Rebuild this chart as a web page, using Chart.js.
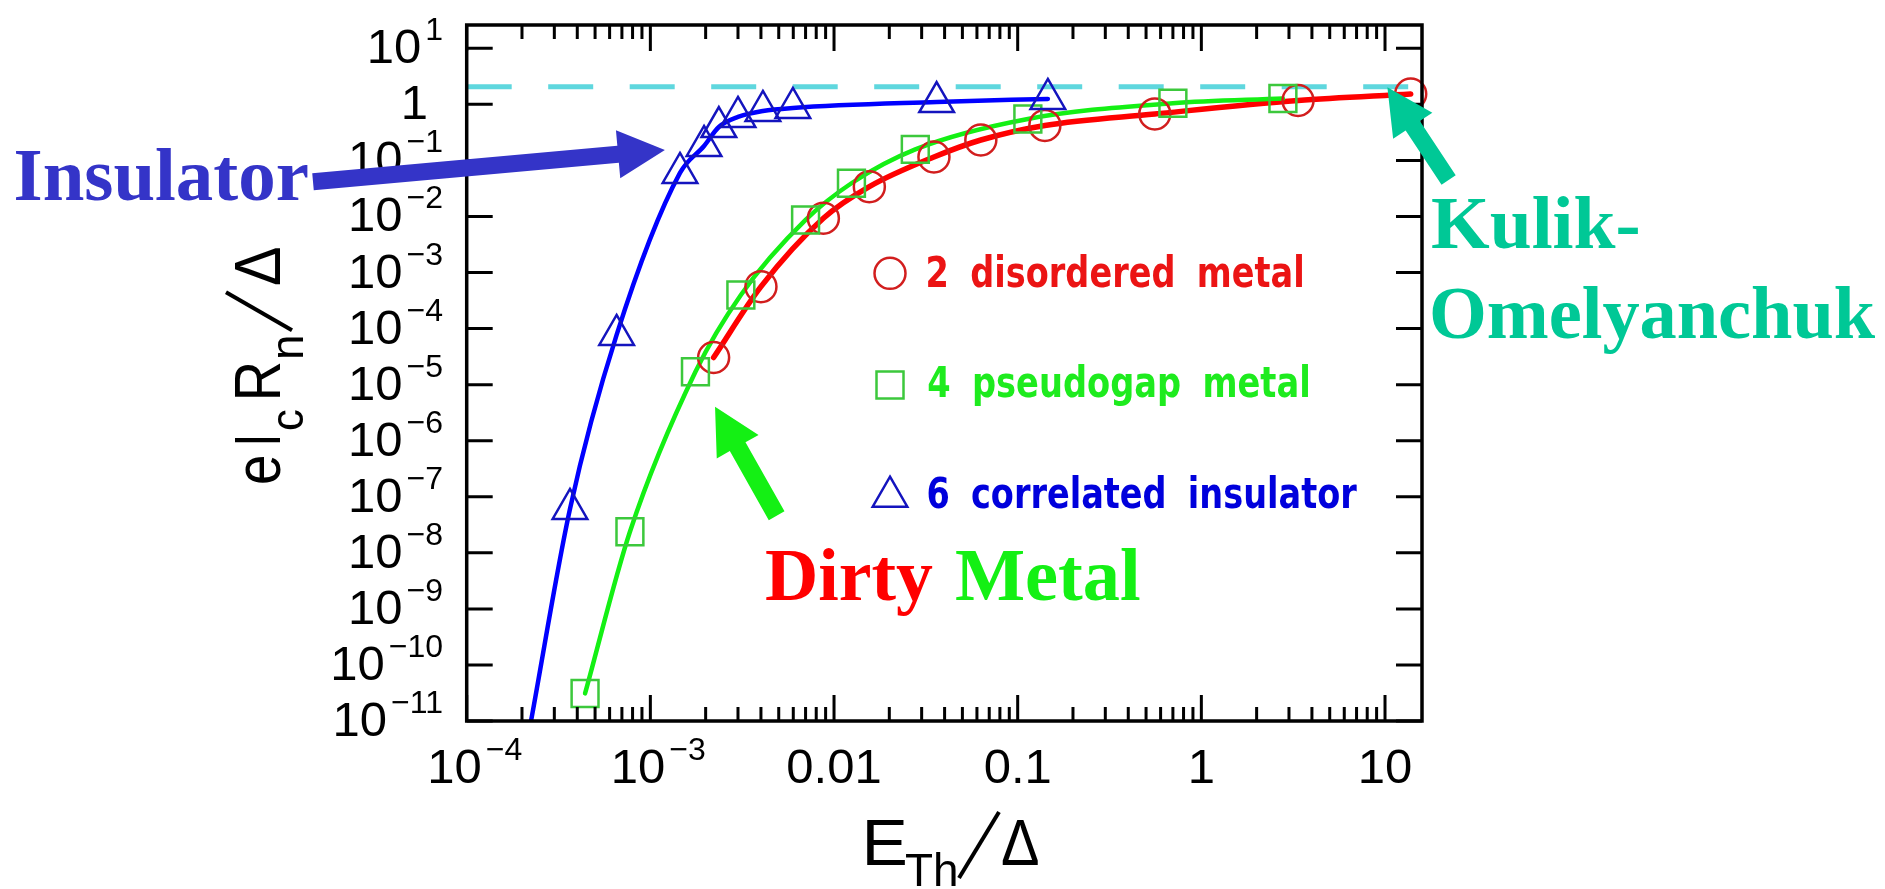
<!DOCTYPE html>
<html>
<head>
<meta charset="utf-8">
<script src="https://cdn.jsdelivr.net/npm/chart.js@4.4.1/dist/chart.umd.min.js"></script>
<style>
  html, body { margin: 0; padding: 0; background: #fff; overflow: hidden; }
  canvas { display: block; }
</style>
</head>
<body>
<canvas id="c" width="1885" height="889" style="width:1885px;height:889px"></canvas>
<script>
// values: x = E_Th/Δ, y = e I_c R_n / Δ
const dmX = [2.21e-3, 4.0e-3, 8.75e-3, 0.01557, 0.035, 0.063, 0.1406, 0.558, 3.36, 13.8];
const dmY = [3.05e-5, 5.59e-4, 9.28e-3, 0.034, 0.115, 0.231, 0.42, 0.673, 1.17, 1.53];

const pgX = [4.41e-4, 7.74e-4, 1.76e-3, 3.11e-3, 7.0e-3, 0.01244, 0.0277, 0.1136, 0.70, 2.78];
const pgY = [3.1e-11, 2.38e-8, 1.70e-5, 3.98e-4, 8.65e-3, 0.0391, 0.157, 0.548, 1.045, 1.27];

const insX = [3.65e-4, 6.55e-4, 1.45e-3, 1.96e-3, 2.36e-3, 3.0e-3, 4.1e-3, 5.97e-3, 0.0362, 0.146];
const insY = [6.05e-8, 7.7e-5, 0.0597, 0.181, 0.394, 0.595, 0.761, 0.861, 1.10, 1.25];
// the insulator curve runs on below the last triangle, down to the frame
const insEdgeX = [2.24e-4];
const insEdgeY = [1e-11];

// Kulik-Omelyanchuk level (dashed)
const koX = [1e-4, 15.9];
const koY = [2.05, 2.05];

const xMajor = [1e-4, 1e-3, 0.01, 0.1, 1, 10];
const xTickText = [['10', '−4'], ['10', '−3'], ['0.01', ''], ['0.1', ''], ['1', ''], ['10', '']];
const yMajor = [10, 1, 0.1, 0.01, 1e-3, 1e-4, 1e-5, 1e-6, 1e-7, 1e-8, 1e-9, 1e-10, 1e-11];
const yTickText = [['10', '1'], ['1', ''], ['10', '−1'], ['10', '−2'], ['10', '−3'], ['10', '−4'], ['10', '−5'],
  ['10', '−6'], ['10', '−7'], ['10', '−8'], ['10', '−9'], ['10', '−10'], ['10', '−11']];

// annotation arrows, [x, y] in data units (tail, tip)
const insArrow = [[1.456e-5, 0.0417], [1.2e-3, 0.153]];
const koArrow = [[22.2, 0.0448], [10.3, 2.01]];
const dirtyArrow = [[4.87e-3, 4.58e-8], [2.25e-3, 4.05e-6]];

const RED = 'rgb(255,0,0)', RED_M = 'rgb(210,30,30)';
const GREEN = 'rgb(20,240,20)', GREEN_M = 'rgb(60,200,60)';
const BLUE = 'rgb(0,0,255)', BLUE_M = 'rgb(20,20,190)';
const KO = 'rgb(95,215,222)';
const TEAL = '#00c896', INDIGO = '#3434c8';

const pts = (xs, ys) => xs.map((x, i) => ({x, y: ys[i]}));

function markers(xs, ys, style, r, color) {
  return {data: pts(xs, ys), showLine: false, pointStyle: style, pointRadius: r, pointHoverRadius: r,
    pointBorderWidth: 2.5, pointBorderColor: color, pointBackgroundColor: 'rgba(0,0,0,0)', clip: false};
}
function curve(xs, ys, color, w) {
  return {data: pts(xs, ys), borderColor: color, borderWidth: w, pointRadius: 0, fill: false,
    cubicInterpolationMode: 'monotone', borderCapStyle: 'round', borderJoinStyle: 'round'};
}

// fit a string so that its inked extent runs from left to right on baseline base
function fit(ctx, str, font, left, right, base) {
  ctx.font = font;
  const m = ctx.measureText(str);
  const w = m.actualBoundingBoxLeft + m.actualBoundingBoxRight;
  ctx.save();
  ctx.translate(left, base);
  ctx.scale((right - left) / w, 1);
  ctx.fillText(str, m.actualBoundingBoxLeft, 0);
  ctx.restore();
}

// thin slash of the axis titles
function slash(ctx, x0, y0, x1, y1) {
  ctx.save();
  ctx.strokeStyle = '#000';
  ctx.lineWidth = 4;
  ctx.beginPath(); ctx.moveTo(x0, y0); ctx.lineTo(x1, y1); ctx.stroke();
  ctx.restore();
}

function arrow(ctx, p0, p1, shaft, headL, headW, color) {
  const dx = p1[0] - p0[0], dy = p1[1] - p0[1], L = Math.hypot(dx, dy);
  const ux = dx / L, uy = dy / L, nx = -uy, ny = ux;
  const bx = p1[0] - ux * headL, by = p1[1] - uy * headL;
  ctx.fillStyle = color;
  ctx.beginPath();
  ctx.moveTo(p0[0] + nx * shaft / 2, p0[1] + ny * shaft / 2);
  ctx.lineTo(bx + nx * shaft / 2, by + ny * shaft / 2);
  ctx.lineTo(bx + nx * headW / 2, by + ny * headW / 2);
  ctx.lineTo(p1[0], p1[1]);
  ctx.lineTo(bx - nx * headW / 2, by - ny * headW / 2);
  ctx.lineTo(bx - nx * shaft / 2, by - ny * shaft / 2);
  ctx.lineTo(p0[0] - nx * shaft / 2, p0[1] - ny * shaft / 2);
  ctx.closePath();
  ctx.fill();
}

const frame = {
  id: 'frame',
  afterDatasetsDraw(chart) {
    const {ctx, chartArea: a, scales: {x, y}} = chart;
    const px = v => x.getPixelForValue(v), py = v => y.getPixelForValue(v);
    ctx.save();
    ctx.textAlign = 'left';
    ctx.textBaseline = 'alphabetic';

    // frame and inward ticks
    ctx.strokeStyle = '#000';
    ctx.lineWidth = 3.5;
    ctx.strokeRect(a.left, a.top, a.right - a.left, a.bottom - a.top);
    ctx.lineWidth = 3;
    ctx.beginPath();
    xMajor.forEach((v, i) => {
      const X = px(v);
      ctx.moveTo(X, a.bottom); ctx.lineTo(X, a.bottom - 26);
      ctx.moveTo(X, a.top); ctx.lineTo(X, a.top + 26);
      for (let k = 2; k < 10; k++) {
        if (k * v > x.max) break;
        const m = px(k * v);
        ctx.moveTo(m, a.bottom); ctx.lineTo(m, a.bottom - 14);
        ctx.moveTo(m, a.top); ctx.lineTo(m, a.top + 14);
      }
    });
    yMajor.forEach(v => {
      const Y = py(v);
      ctx.moveTo(a.left, Y); ctx.lineTo(a.left + 26, Y);
      ctx.moveTo(a.right, Y); ctx.lineTo(a.right - 26, Y);
    });
    ctx.stroke();

    // tick labels
    ctx.fillStyle = '#000';
    const BASE = '49px "Liberation Sans", Arial, sans-serif';
    const EXP = '32px "Liberation Sans", Arial, sans-serif';
    const labelWidth = ([b, e]) => {
      ctx.font = BASE; let w = ctx.measureText(b).width;
      if (e) { ctx.font = EXP; w += 4 + ctx.measureText(e).width; }
      return w;
    };
    const drawLabel = ([b, e], left, base) => {
      ctx.font = BASE; ctx.fillText(b, left, base);
      if (e) { const bw = ctx.measureText(b).width; ctx.font = EXP; ctx.fillText(e, left + bw + 4, base - 23); }
    };
    yMajor.forEach((v, i) => {
      const t = yTickText[i];
      const right = t[1] ? 443 : 428;
      drawLabel(t, right - labelWidth(t), py(v) + 15);
    });
    xMajor.forEach((v, i) => {
      const t = xTickText[i];
      const w = labelWidth(t);
      drawLabel(t, px(v) - w / 2 + (t[1] ? 8 : 0), 783);
    });

    // axis titles
    const T = '64px "Liberation Sans", Arial, sans-serif';
    const S = '46px "Liberation Sans", Arial, sans-serif';
    fit(ctx, 'E', T, 867, 905, 865);
    fit(ctx, 'Th', S, 906, 956, 886);
    slash(ctx, 959, 878, 999, 812);
    fit(ctx, 'Δ', T, 1002, 1038, 865);
    ctx.save();
    ctx.translate(280, 483.3);
    ctx.rotate(-Math.PI / 2);
    fit(ctx, 'e', T, 0, 26.6, 0);
    fit(ctx, 'I', T, 40.3, 45.3, 0);
    fit(ctx, 'c', S, 53.3, 73.3, 23);
    fit(ctx, 'R', T, 86.3, 120.3, 0);
    fit(ctx, 'n', S, 126.3, 146.3, 23);
    slash(ctx, 153, 12, 191, -54);
    fit(ctx, 'Δ', T, 198.3, 235.3, 0);
    ctx.restore();

    // legend
    ctx.lineWidth = 2.5;
    ctx.strokeStyle = RED_M;
    ctx.beginPath(); ctx.arc(890, 273.3, 15.5, 0, Math.PI * 2); ctx.stroke();
    ctx.strokeStyle = GREEN_M;
    ctx.strokeRect(876.5, 371.5, 27, 27);
    ctx.strokeStyle = BLUE_M;
    ctx.beginPath(); ctx.moveTo(890, 476.7); ctx.lineTo(907.3, 506.7); ctx.lineTo(872.7, 506.7); ctx.closePath(); ctx.stroke();
    const LF = 'bold 42px "DejaVu Sans", Verdana, sans-serif';
    ctx.wordSpacing = '12px';
    ctx.fillStyle = 'rgb(235,20,20)'; fit(ctx, '2 disordered metal', LF, 928, 1302, 286.7);
    ctx.fillStyle = 'rgb(30,235,30)'; fit(ctx, '4 pseudogap metal', LF, 928, 1308, 396.7);
    ctx.fillStyle = 'rgb(0,0,220)'; fit(ctx, '6 correlated insulator', LF, 928, 1357, 508);
    ctx.wordSpacing = '0px';

    // annotations
    const P = ([vx, vy]) => [px(vx), py(vy)];
    arrow(ctx, P(insArrow[0]), P(insArrow[1]), 17, 47, 48, INDIGO);
    arrow(ctx, P(koArrow[0]), P(koArrow[1]), 17, 46, 47, TEAL);
    arrow(ctx, P(dirtyArrow[0]), P(dirtyArrow[1]), 18, 46, 48, 'rgb(20,240,20)');
    const A = 'bold 74px "Liberation Serif", "Times New Roman", serif';
    ctx.fillStyle = INDIGO; fit(ctx, 'Insulator', A, 15.6, 308, 200);
    ctx.fillStyle = TEAL; fit(ctx, 'Kulik-', A, 1432, 1638, 248);
    fit(ctx, 'Omelyanchuk', A, 1432, 1876, 338);
    ctx.fillStyle = 'rgb(255,0,0)'; fit(ctx, 'Dirty', A, 766, 933, 600);
    ctx.fillStyle = 'rgb(20,240,20)'; fit(ctx, 'Metal', A, 956, 1140, 600);
    ctx.restore();
  }
};

new Chart(document.getElementById('c'), {
  type: 'line',
  data: {
    datasets: [
      markers(insX, insY, 'triangle', 20, BLUE_M),
      markers(pgX, pgY, 'rect', 19, GREEN_M),
      markers(dmX, dmY, 'circle', 15.5, RED_M),
      curve(insEdgeX.concat(insX), insEdgeY.concat(insY), BLUE, 4.5),
      curve(pgX, pgY, GREEN, 4.5),
      curve(dmX, dmY, RED, 5.5),
      Object.assign(curve(koX, koY, KO, 5), {borderDash: [45, 36.5], borderCapStyle: 'butt', clip: false})
    ]
  },
  options: {
    responsive: false,
    animation: false,
    devicePixelRatio: 1,
    layout: {padding: {left: 466.7, right: 463, top: 25, bottom: 168}},
    scales: {
      x: {type: 'logarithmic', min: 1e-4, max: 15.9, display: false},
      y: {type: 'logarithmic', min: 1e-11, max: 26, display: false}
    },
    plugins: {legend: {display: false}, tooltip: {enabled: false}}
  },
  plugins: [frame]
});
</script>
</body>
</html>
